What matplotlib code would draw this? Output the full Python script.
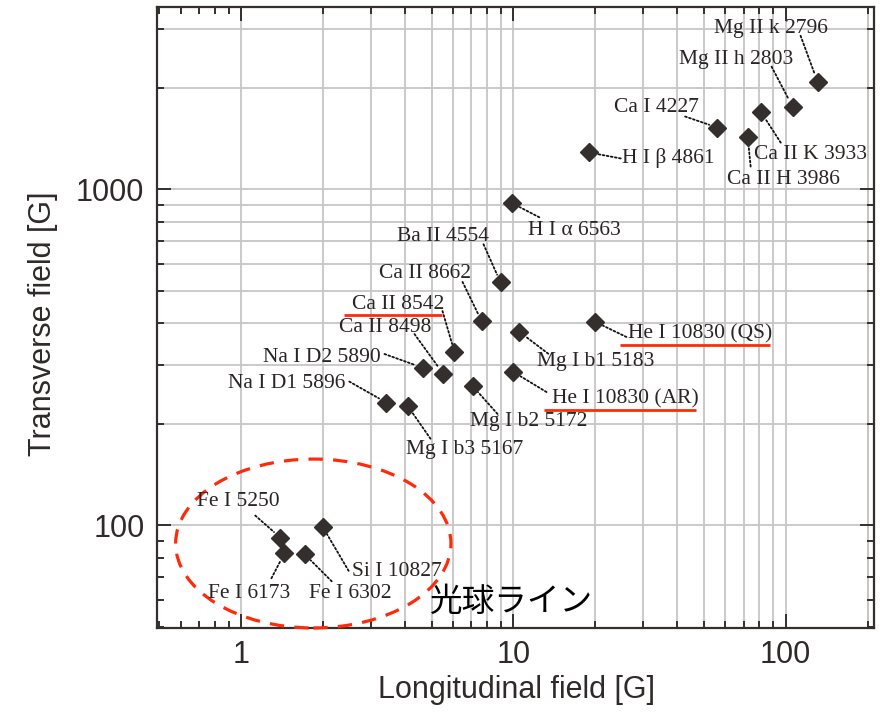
import matplotlib
matplotlib.use("Agg")
import matplotlib.pyplot as plt
from matplotlib.patches import Ellipse
from matplotlib.lines import Line2D
from matplotlib.ticker import FixedLocator, FixedFormatter, NullFormatter

# line name, longitudinal field [G], transverse field [G]
LINES = [
    "Mg II k 2796", "Mg II h 2803", "Ca II K 3933", "Ca I 4227", "Ca II H 3986",
    "H I \u03b2 4861", "H I \u03b1 6563", "Ba II 4554", "Ca II 8662", "Ca II 8542",
    "Ca II 8498", "He I 10830 (QS)", "Mg I b1 5183", "Na I D2 5890", "He I 10830 (AR)",
    "Mg I b2 5172", "Na I D1 5896", "Mg I b3 5167", "Si I 10827", "Fe I 5250",
    "Fe I 6173", "Fe I 6302",
]
B_LONG = [131, 106, 81, 56, 72.5, 18.9, 9.9, 8.96, 7.63, 6.07,
          5.53, 20.0, 10.5, 4.67, 10.0, 7.07, 3.41, 4.08, 1.99, 1.39,
          1.44, 1.71]
B_TRANS = [2090, 1763, 1703, 1528, 1436, 1288, 909, 529, 406, 328,
           282, 403, 377, 294, 286, 260, 232, 227, 99, 92,
           82.6, 82]
UNDERLINED = ["Ca II 8542", "He I 10830 (QS)", "He I 10830 (AR)"]

# label placement (pixels from marker): text centre, far end of dotted leader
LABEL_OFFSET = {
    "Mg II k 2796": ((-47, 53), (-17, 46)),
    "Mg II h 2803": ((-56, 47), (-21, 40)),
    "Ca II K 3933": ((50, -43), (20, -31)),
    "Ca I 4227": ((-61, 20), (-32, 11)),
    "Ca II H 3986": ((36, -43), (3, -30)),
    "H I \u03b2 4861": ((80, -6), (32, -6)),
    "H I \u03b1 6563": ((62, -27), (27, -14)),
    "Ba II 4554": ((-58, 46), (-17, 38)),
    "Ca II 8662": ((-57, 47), (-19, 39)),
    "Ca II 8542": ((-56, 48), (-12, 41)),
    "Ca II 8498": ((-58, 47), (-29, 40)),
    "He I 10830 (QS)": ((105, -12), (31, -15)),
    "Mg I b1 5183": ((76, -30), (29, -22)),
    "Na I D2 5890": ((-102, 11), (-39, 14)),
    "He I 10830 (AR)": ((112, -27), (33, -20)),
    "Mg I b2 5172": ((56, -36), (25, -28)),
    "Na I D1 5896": ((-100, 19), (-37, 21)),
    "Mg I b3 5167": ((57, -44), (23, -33)),
    "Si I 10827": ((74, -45), (26, -44)),
    "Fe I 5250": ((-42, 36), (-25, 22)),
    "Fe I 6173": ((-35, -40), (-13, -25)),
    "Fe I 6302": ((46, -39), (27, -27)),
}

DARK = "#342e2d"
TEXT = "#2f2a29"
RED = "#ff2a0a"
GRID = "#c6c6c6"
SERIF = "Liberation Serif"
SANS = "Liberation Sans"

fig = plt.figure(figsize=(8.84, 7.12), dpi=100)
ax = fig.add_axes([0.1776, 0.118, 0.811, 0.8722])
ax.set_xscale("log")
ax.set_yscale("log")
ax.set_xlim(0.49, 211)
ax.set_ylim(49.5, 3490)

# grid only spans 1..200 in x and 100..3000 in y
for v in [m * 10 ** e for e in range(0, 3) for m in range(1, 10)] + [200]:
    ax.axvline(v, color=GRID, lw=1.3, zorder=0)
for v in [m * 10 ** e for e in range(2, 4) for m in range(1, 10) if m * 10 ** e <= 3000]:
    ax.axhline(v, color=GRID, lw=1.3, zorder=0)

ax.plot(B_LONG, B_TRANS, "D", color=DARK, ms=9.5, mec=DARK, zorder=4, ls="none")

labels = {}
for name, bx, by in zip(LINES, B_LONG, B_TRANS):
    (tx, ty), (lx, ly) = LABEL_OFFSET[name]
    ax.annotate("", xy=(bx, by), xytext=(lx, ly), textcoords="offset pixels",
                arrowprops=dict(arrowstyle="-", color="#111111", lw=1.3, ls=(0, (1, 1.3)),
                                shrinkA=0, shrinkB=6), zorder=3)
    labels[name] = ax.annotate(name, xy=(bx, by), xytext=(tx, ty), textcoords="offset pixels",
                               ha="center", va="center", fontsize=15.5, family=SERIF,
                               color="#2a2424", zorder=5)

# red underline under the highlighted lines, sized from the rendered text
fig.canvas.draw()
renderer = fig.canvas.get_renderer()
for name in UNDERLINED:
    bb = labels[name].get_window_extent(renderer)
    y = bb.y0 - 1
    fig.add_artist(Line2D([bb.x0 - 8, bb.x1 - 3], [y, y], transform=None,
                          color=RED, lw=2, solid_capstyle="butt", zorder=3))

ax.add_patch(Ellipse((0.218, 0.136), 0.384, 0.272, transform=ax.transAxes,
                     fill=False, ec=RED, lw=2.3, ls=(0, (4.5, 3.2)), zorder=3,
                     clip_on=False))
ax.text(0.495, 0.042, "光球ライン", transform=ax.transAxes, ha="center", va="center",
        fontsize=23.5, family=["Noto Sans CJK JP", "DejaVu Sans"], color="black", zorder=6)

ax.xaxis.set_major_locator(FixedLocator([1, 10, 100]))
ax.xaxis.set_major_formatter(FixedFormatter(["1", "10", "100"]))
ax.xaxis.set_minor_formatter(NullFormatter())
ax.yaxis.set_major_locator(FixedLocator([100, 1000]))
ax.yaxis.set_major_formatter(FixedFormatter(["100", "1000"]))
ax.yaxis.set_minor_formatter(NullFormatter())
ax.tick_params(which="both", direction="in", top=True, right=True, color=DARK,
               labelsize=22, labelcolor=TEXT, width=1.4)
ax.tick_params(which="major", length=10, pad=9)
ax.tick_params(which="minor", length=5)
for lab in ax.get_xticklabels() + ax.get_yticklabels():
    lab.set_family(SANS)
for s in ax.spines.values():
    s.set_color(DARK)
    s.set_linewidth(1.6)

ax.set_xlabel("Longitudinal field [G]", fontsize=22, family=SANS, color=TEXT)
ax.set_ylabel("Transverse field [G]", fontsize=22, family=SANS, color=TEXT)
ax.xaxis.set_label_coords(0.502, -0.075)
ax.yaxis.set_label_coords(-0.138, 0.49)

fig.savefig("out.png", dpi=100)
